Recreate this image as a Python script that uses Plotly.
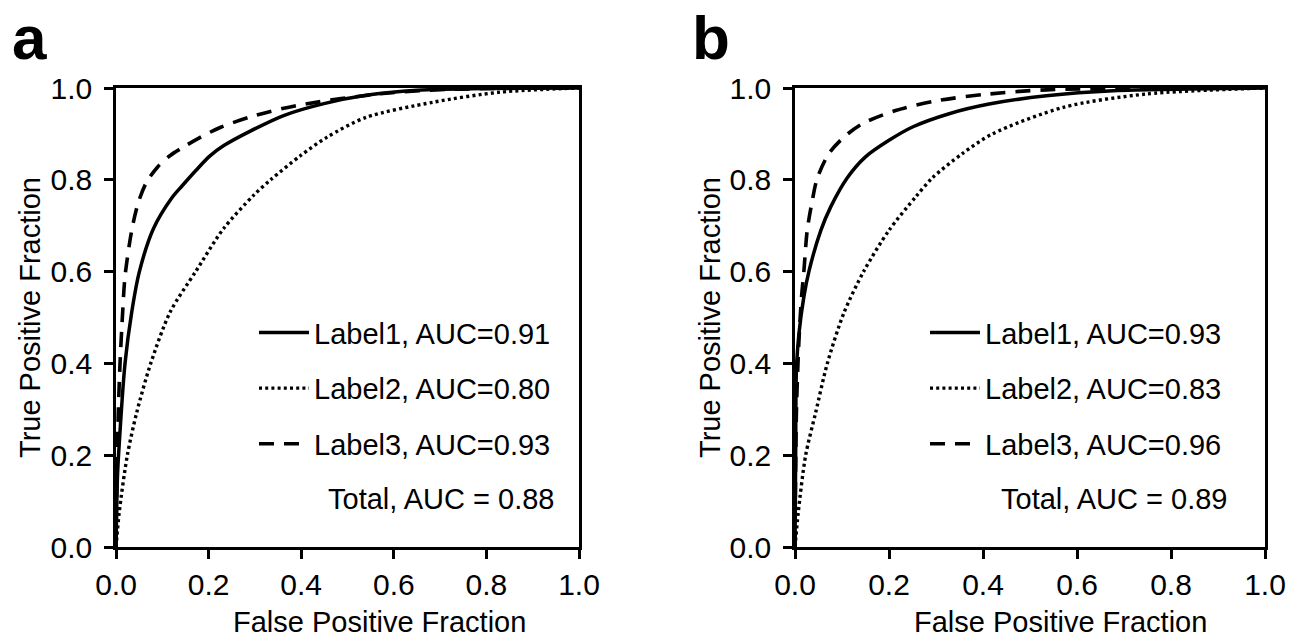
import plotly.graph_objects as go

# Panel a: ROC points
A_FPR_1 = [0, 0.003, 0.0055, 0.0195, 0.034, 0.0505, 0.081, 0.12, 0.142, 0.174, 0.203, 0.232, 0.29, 0.362, 0.449, 0.54, 0.65, 0.8, 1.0]
A_TPR_1 = [0, 0.15, 0.2, 0.40, 0.512, 0.60, 0.694, 0.76, 0.786, 0.822, 0.852, 0.874, 0.906, 0.94, 0.966, 0.984, 0.995, 0.999, 1.0]

A_FPR_2 = [0, 0.007, 0.0245, 0.045, 0.075, 0.117, 0.172, 0.2325, 0.297, 0.334, 0.399, 0.456, 0.54, 0.685, 0.83, 1.0]
A_TPR_2 = [0, 0.076, 0.20, 0.294, 0.40, 0.512, 0.60, 0.694, 0.766, 0.80, 0.853, 0.893, 0.936, 0.969, 0.991, 1.0]

A_FPR_3 = [0, 0.002, 0.005, 0.0087, 0.0144, 0.0195, 0.034, 0.048, 0.066, 0.09, 0.117, 0.15, 0.181, 0.225, 0.29, 0.391, 0.577, 0.72, 1.0]
A_TPR_3 = [0, 0.15, 0.294, 0.40, 0.512, 0.59, 0.69, 0.75, 0.795, 0.828, 0.853, 0.874, 0.892, 0.914, 0.937, 0.962, 0.988, 0.997, 1.0]

# Panel b
B_FPR_1 = [0, 0.0014, 0.003, 0.0085, 0.019, 0.030, 0.055, 0.076, 0.111, 0.15, 0.2, 0.25, 0.328, 0.413, 0.535, 0.677, 1.0]
B_TPR_1 = [0, 0.2, 0.387, 0.466, 0.546, 0.602, 0.69, 0.741, 0.804, 0.85, 0.886, 0.915, 0.944, 0.965, 0.983, 0.994, 1.0]

B_FPR_2 = [0, 0.007, 0.0227, 0.044, 0.0688, 0.104, 0.147, 0.2, 0.257, 0.292, 0.356, 0.42, 0.571, 0.748, 1.0]
B_TPR_2 = [0, 0.076, 0.2, 0.293, 0.40, 0.51, 0.602, 0.69, 0.763, 0.804, 0.857, 0.9, 0.958, 0.987, 1.0]

B_FPR_3 = [0, 0.003, 0.0085, 0.014, 0.019, 0.026, 0.037, 0.0475, 0.072, 0.104, 0.143, 0.214, 0.306, 0.413, 0.535, 1.0]
B_TPR_3 = [0, 0.293, 0.452, 0.546, 0.602, 0.69, 0.756, 0.804, 0.857, 0.893, 0.922, 0.951, 0.973, 0.987, 0.996, 1.0]

LABELS = ["Label1", "Label2", "Label3"]
AUC_A = ["0.91", "0.80", "0.93"]
AUC_B = ["0.93", "0.83", "0.96"]
TOTAL_A = "0.88"
TOTAL_B = "0.89"

TICKS = [0, 0.2, 0.4, 0.6, 0.8, 1.0]
TICK_TEXT = ["0.0", "0.2", "0.4", "0.6", "0.8", "1.0"]

FONT = "Liberation Sans, Arial, sans-serif"
FS = 29

STYLES = [
    dict(color="black", width=3.5, dash="solid"),
    dict(color="black", width=3.4, dash="3px,3.2px"),
    dict(color="black", width=3.6, dash="15px,10px"),
]


def add_panel(fig, curves, aucs, xa, ya, legend):
    for (fpr, tpr), name, auc, style in zip(curves, LABELS, aucs, STYLES):
        fig.add_trace(go.Scatter(
            x=fpr, y=tpr, mode="lines",
            line=dict(shape="spline", smoothing=0.8, **style),
            name=f"{name}, AUC={auc}",
            legend=legend, legendgroup=f"{legend}-{name}",
            xaxis=xa, yaxis=ya,
        ))


def axis_style(domain, anchor, standoff):
    return dict(
        domain=domain, anchor=anchor, range=[0, 1],
        tickvals=TICKS, ticktext=TICK_TEXT,
        ticks="outside", ticklen=9, tickwidth=2.5, tickcolor="black",
        showline=True, linewidth=2.5, linecolor="black", mirror=True,
        showgrid=False, zeroline=False, automargin=False,
        tickfont=dict(family=FONT, size=30, color="black"),
        ticklabelstandoff=standoff,
    )


def main():
    fig = go.Figure()
    add_panel(fig, [(A_FPR_1, A_TPR_1), (A_FPR_2, A_TPR_2), (A_FPR_3, A_TPR_3)],
              AUC_A, "x", "y", "legend")
    add_panel(fig, [(B_FPR_1, B_TPR_1), (B_FPR_2, B_TPR_2), (B_FPR_3, B_TPR_3)],
              AUC_B, "x2", "y2", "legend2")

    ydom = [90 / 637, 549 / 637]
    leg = dict(
        font=dict(family=FONT, size=FS, color="black"),
        bgcolor="rgba(0,0,0,0)", itemwidth=50, tracegroupgap=15,
        traceorder="grouped", xanchor="left", yanchor="top", y=0.518,
    )
    fig.update_layout(
        width=1302, height=637,
        margin=dict(l=0, r=0, t=0, b=0),
        paper_bgcolor="white", plot_bgcolor="white",
        font=dict(family=FONT, size=FS, color="black"),
        xaxis=axis_style([116 / 1302, 579 / 1302], "y", 0),
        yaxis=axis_style(ydom, "x", 6),
        xaxis2=axis_style([795 / 1302, 1265 / 1302], "y2", 0),
        yaxis2=axis_style(ydom, "x2", 6),
        legend=dict(leg, x=254 / 1302),
        legend2=dict(leg, x=925 / 1302),
    )

    ann = []
    for xa, ya, total, tx, lx, yx, px, letter in [
        ("x", "y", TOTAL_A, 0.953, 0.57, 30 / 1302, 10 / 1302, "a"),
        ("x2", "y2", TOTAL_B, 0.925, 0.565, 710 / 1302, 690 / 1302, "b"),
    ]:
        ann.append(dict(text=f"Total, AUC = {total}", xref=xa, yref=ya, x=tx, y=0.105,
                        xanchor="right", yanchor="middle", showarrow=False))
        ann.append(dict(text="False Positive Fraction", xref=xa, yref="paper", x=lx,
                        y=15 / 637, xanchor="center", yanchor="middle", showarrow=False))
        ann.append(dict(text="True Positive Fraction", xref="paper", yref="paper", x=yx,
                        y=319 / 637, textangle=-90, xanchor="center", yanchor="middle",
                        showarrow=False))
        ann.append(dict(text=f"<b>{letter}</b>", xref="paper", yref="paper", x=px,
                        y=(637 - 37) / 637, xanchor="left", yanchor="middle",
                        showarrow=False, font=dict(family=FONT, size=62, color="black")))
    fig.update_layout(annotations=ann)

    # the page's default body margin would push the figure 8px right/down
    fig.write_html("out.html", config={"displayModeBar": False},
                   post_script="document.body.style.margin='0';")


if __name__ == "__main__":
    main()
